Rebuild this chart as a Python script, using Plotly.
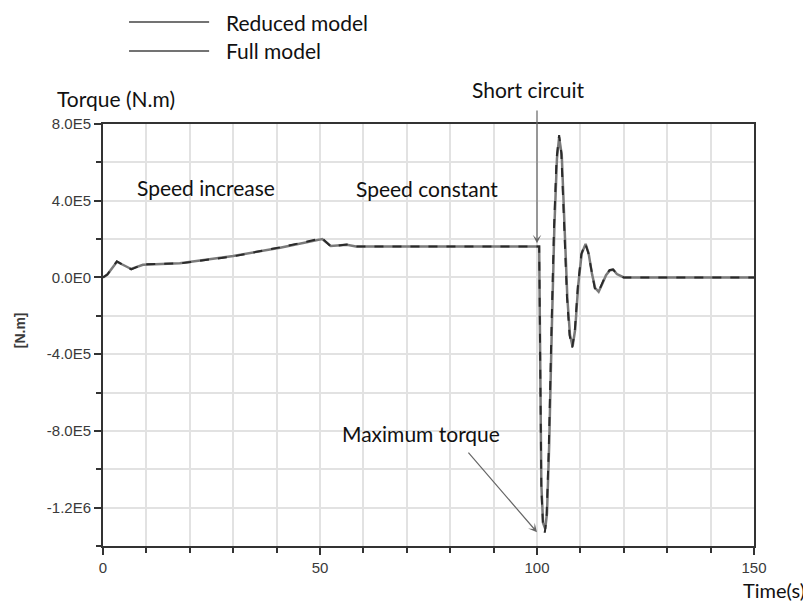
import plotly.graph_objects as go

# ---- data ----
t_reduced = [0, 1.0, 3.2, 6.5, 9.2, 17.7, 30.0, 40.8, 50.5, 52.5, 56.2, 58.3, 100.5,
             100.7, 101.0, 101.4, 101.8, 102.2, 102.7, 103.3, 103.9, 104.5, 105.1,
             105.6, 106.2, 106.9, 107.5, 108.1, 108.7, 109.4, 110.2, 111.1, 111.8,
             112.6, 113.3, 114.1, 114.9, 115.8, 116.7, 117.5, 118.3, 119.5, 120.0, 150.0]
torque_reduced = [0, 15e3, 84e3, 42e3, 68e3, 73e3, 110e3, 157e3, 204e3, 162e3, 172e3, 162e3, 162e3,
                  -600e3, -1100e3, -1300e3, -1330e3, -1250e3, -900e3, -300e3, 250e3, 620e3, 742e3,
                  650e3, 300e3, -100e3, -300e3, -366e3, -280e3, -50e3, 120e3, 178e3, 130e3,
                  20e3, -55e3, -78e3, -40e3, 10e3, 38e3, 42e3, 20e3, 3e3, 0, 0]

t_full = [0, 1.0, 3.2, 6.5, 9.2, 17.7, 30.0, 40.8, 50.5, 52.5, 56.2, 58.3, 100.5,
          100.7, 101.0, 101.4, 101.9, 102.3, 102.8, 103.4, 104.0, 104.6, 105.1,
          105.7, 106.3, 107.0, 107.6, 108.2, 108.8, 109.5, 110.3, 111.2, 111.9,
          112.7, 113.4, 114.2, 115.0, 115.9, 116.8, 117.6, 118.4, 119.6, 120.0, 150.0]
torque_full = [0, 15e3, 82e3, 44e3, 66e3, 74e3, 112e3, 155e3, 200e3, 164e3, 170e3, 162e3, 162e3,
               -580e3, -1080e3, -1280e3, -1310e3, -1230e3, -880e3, -280e3, 260e3, 620e3, 730e3,
               640e3, 290e3, -110e3, -300e3, -360e3, -270e3, -40e3, 125e3, 175e3, 125e3,
               15e3, -55e3, -75e3, -35e3, 12e3, 38e3, 40e3, 18e3, 2e3, 0, 0]

y_tickvals = [-1.2e6, -8e5, -4e5, 0, 4e5, 8e5]
y_ticktext = ["-1.2E6", "-8.0E5", "-4.0E5", "0.0E0", "4.0E5", "8.0E5"]
x_tickvals = [0, 50, 100, 150]
x_ticktext = ["0", "50", "100", "150"]

series_names = ["Reduced model", "Full model"]

TXT = "Lato, 'Open Sans', sans-serif"
TSZ = 21
TCOL = "#111"
TICKF = "Arial, 'Liberation Sans', sans-serif"

fig = go.Figure()
fig.add_trace(go.Scatter(x=t_full, y=torque_full, mode="lines", name=series_names[1],
                         line=dict(color="#7a7a7a", width=2.5)))
fig.add_trace(go.Scatter(x=t_reduced, y=torque_reduced, mode="lines", name=series_names[0],
                         line=dict(color="#2a2a2a", width=2, dash="dash")))

grid = "#e2e2e2"
fig.update_layout(
    width=811, height=601,
    margin=dict(l=95, r=65, t=116, b=63),
    paper_bgcolor="white", plot_bgcolor="white",
    showlegend=False,
    font=dict(family=TICKF, size=14, color="#3a3a3a"),
    xaxis=dict(range=[0, 150], tickmode="array", tickvals=x_tickvals, ticktext=x_ticktext,
               ticks="outside", ticklen=7, tickwidth=2, tickcolor="#333",
               showline=True, linecolor="#333", linewidth=2, mirror=True,
               showgrid=True, gridcolor=grid, gridwidth=1.5, zeroline=False,
               tickfont=dict(family=TICKF, size=15, color="#3a3a3a"),
               minor=dict(tickmode="linear", tick0=0, dtick=10, ticks="outside", ticklen=5,
                          tickwidth=2, tickcolor="#333", showgrid=True, gridcolor=grid, gridwidth=1.5)),
    yaxis=dict(range=[-1.4e6, 8e5], tickmode="array", tickvals=y_tickvals, ticktext=y_ticktext,
               ticks="outside", ticklen=7, tickwidth=2, tickcolor="#333",
               showline=True, linecolor="#333", linewidth=2, mirror=True,
               showgrid=True, gridcolor=grid, gridwidth=1.5, zeroline=False,
               tickfont=dict(family=TICKF, size=15, color="#3a3a3a"),
               minor=dict(tickmode="linear", tick0=0, dtick=2e5, ticks="outside", ticklen=5,
                          tickwidth=2, tickcolor="#333", showgrid=True, gridcolor=grid, gridwidth=1.5)),
)

# manual legend
leg_y = [1.2417, 1.173]
for i, name in enumerate(series_names):
    fig.add_shape(type="line", xref="paper", yref="paper", x0=0.04, x1=0.163,
                  y0=leg_y[i], y1=leg_y[i], line=dict(color="#444", width=1.5))
    fig.add_annotation(xref="paper", yref="paper", x=0.186, y=leg_y[i], text=name,
                       showarrow=False, xanchor="left", yanchor="middle",
                       font=dict(family=TXT, size=TSZ, color=TCOL))

# text annotations
def label(text, x, y, ref="paper", size=TSZ):
    fig.add_annotation(xref=ref, yref=ref, x=x, y=y, text=text, showarrow=False,
                       xanchor="center", yanchor="middle",
                       font=dict(family=TXT, size=size, color=TCOL))

label("Torque (N.m)", 0.02, 1.0616)
label("Short circuit", 0.653, 1.0806)
label("Speed increase", 23.7, 470e3, ref=None)
label("Speed constant", 74.7, 465e3, ref=None)
label("Maximum torque", 73.3, -816e3, ref=None)
label("Time(s)", 1.03, -0.104, size=20)

# arrows
fig.add_annotation(x=100, y=178e3, ax=100, ay=878e3, axref="x", ayref="y",
                   text="", showarrow=True, arrowhead=3, arrowsize=1.2, arrowwidth=1.2,
                   arrowcolor="#666")
fig.add_annotation(x=100, y=-1.328e6, ax=83.9, ay=-905e3, axref="x", ayref="y",
                   text="", showarrow=True, arrowhead=3, arrowsize=1.2, arrowwidth=1.2,
                   arrowcolor="#666")

# y-axis unit label
fig.add_annotation(xref="paper", yref="paper", x=-0.127, y=0.512, text="<b>[N.m]</b>",
                   textangle=-90, showarrow=False, xanchor="center", yanchor="middle",
                   font=dict(family=TICKF, size=14, color="#3a3a3a"))

fig.write_html("out.html")
